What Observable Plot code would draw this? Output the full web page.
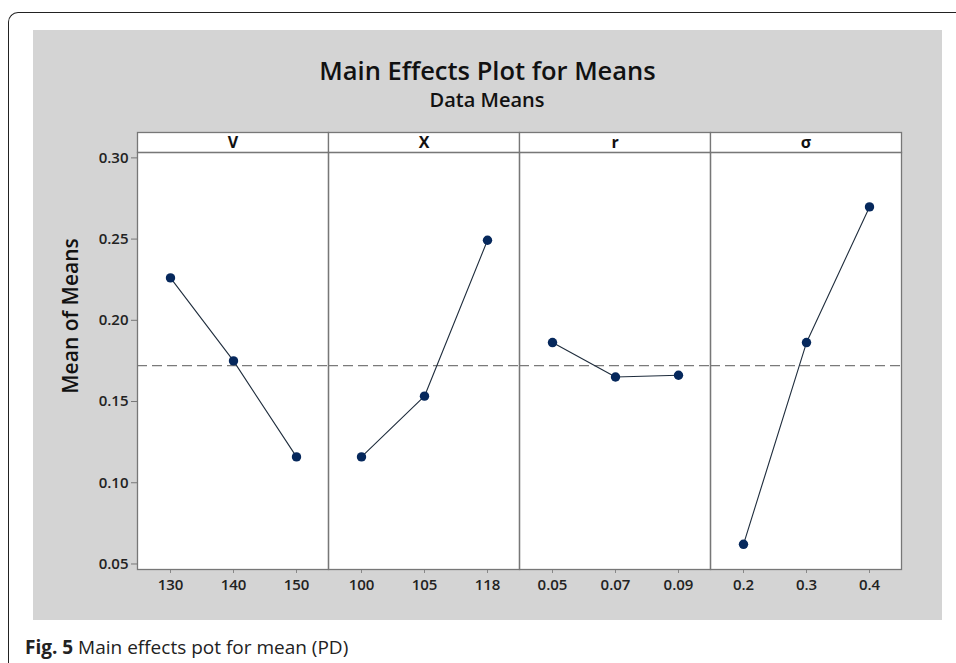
<!DOCTYPE html>
<html>
<head>
<meta charset="utf-8">
<script src="https://cdn.jsdelivr.net/npm/d3@7"></script>
<script src="https://cdn.jsdelivr.net/npm/@observablehq/plot@0.6"></script>
<style>
  html, body { margin: 0; padding: 0; }
  body { width: 956px; height: 663px; overflow: hidden; background: #fff; position: relative; font-family: "Open Sans", sans-serif; }
  #frame { position: absolute; left: 8px; top: 12px; width: 1000px; height: 700px; border-left: 1.6px solid #222; border-top: 1.6px solid #222; border-top-left-radius: 10px; }
  #panel { position: absolute; left: 33px; top: 30px; width: 909px; height: 590px; background: #d4d4d4; }
  #chart { position: absolute; left: 33px; top: 30px; }
  #overlay { position: absolute; left: 0; top: 0; pointer-events: none; }
</style>
</head>
<body>
<div id="frame"></div>
<div id="panel"></div>
<div id="chart"></div>
<svg id="overlay" width="956" height="663" font-family="'Open Sans', sans-serif">
  <text x="487.5" y="80" text-anchor="middle" font-size="25.5" font-weight="600" fill="#111">Main Effects Plot for Means</text>
  <text x="487" y="106.5" text-anchor="middle" font-size="20" font-weight="600" fill="#111">Data Means</text>
  <text transform="translate(78,316) rotate(-90)" text-anchor="middle" font-size="21" font-weight="600" fill="#111">Mean of Means</text>
  <text x="25" y="654" font-size="19" fill="#222"><tspan font-weight="700">Fig. 5</tspan> Main effects pot for mean (PD)</text>
</svg>
<script>
// Factors (facet headers)
const factors = ["V", "X", "r", "σ"];
// Levels (tick labels) per factor
const levelsV = ["130", "140", "150"];
const levelsX = ["100", "105", "118"];
const levelsR = ["0.05", "0.07", "0.09"];
const levelsS = ["0.2", "0.3", "0.4"];
// Means per factor level
const meansV = [0.2261, 0.1750, 0.1159];
const meansX = [0.1159, 0.1533, 0.2493];
const meansR = [0.1863, 0.1651, 0.1662];
const meansS = [0.0621, 0.1863, 0.2698];
// Y axis ticks and overall mean (dashed reference)
const yTicks = [0.05, 0.10, 0.15, 0.20, 0.25, 0.30];
const overallMean = 0.1721;

const levels = [levelsV, levelsX, levelsR, levelsS];
const means = [meansV, meansX, meansR, meansS];
const rows = factors.flatMap((f, k) => levels[k].map((lv, i) => ({factor: f, idx: i, level: lv, mean: means[k][i]})));

const W = 909, H = 590, mT = 122, mB = 51, mL = 103, mR = 41;
const plotH = H - mT - mB;

const chart = Plot.plot({
  width: W, height: H,
  marginLeft: mL, marginRight: mR, marginTop: mT, marginBottom: mB,
  style: {background: "transparent", fontFamily: "'Open Sans', sans-serif", overflow: "visible"},
  fx: {domain: factors, padding: 0, axis: null},
  x: {type: "point", domain: [0, 1, 2], padding: 0.5, axis: null},
  y: {domain: [0.0466, 0.3033], axis: null},
  marks: [
    Plot.frame({fill: "white", stroke: "none"}),
    Plot.frame({fill: "white", stroke: "#777", strokeWidth: 1.3, insetTop: -20, insetBottom: plotH}),
    Plot.ruleY([overallMean], {stroke: "#7a7a7a", strokeWidth: 1.3, strokeDasharray: "10,5"}),
    Plot.line(rows, {fx: "factor", x: "idx", y: "mean", stroke: "#1f2d3d", strokeWidth: 1.1}),
    Plot.dot(rows, {fx: "factor", x: "idx", y: "mean", r: 4.7, fill: "#06285c", stroke: "none"}),
    Plot.tickX(rows, {fx: "factor", x: "idx", stroke: "#888", insetTop: plotH, insetBottom: -4}),
    Plot.text(rows, {fx: "factor", x: "idx", text: "level", frameAnchor: "bottom", lineAnchor: "middle", dy: 16, fontSize: 15, fontWeight: 600, fill: "#222"}),
    Plot.text(factors, {fx: d => d, text: d => d, frameAnchor: "top", lineAnchor: "middle", dy: -10, fontSize: 16, fontWeight: 700, fill: "#111"}),
    Plot.axisY(yTicks, {anchor: "left", tickFormat: ".2f", tickSize: 6, tickPadding: 3, fontSize: 15, fontWeight: 600, stroke: "#777", fill: "#222", label: null}),
    Plot.frame({stroke: "#777", strokeWidth: 1.3})
  ]
});
document.getElementById("chart").appendChild(chart);
</script>
</body>
</html>
